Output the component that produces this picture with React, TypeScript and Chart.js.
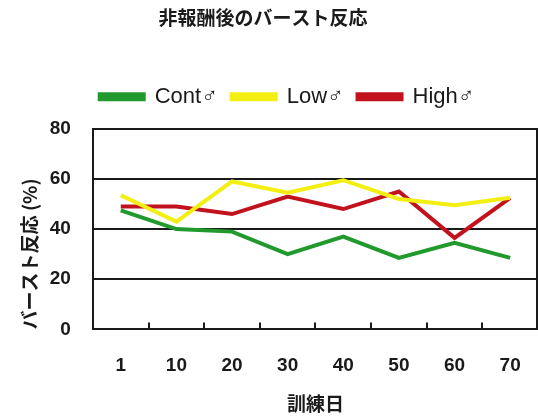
import React, { useEffect, useRef } from "react";
import { Chart, registerables } from "chart.js";

Chart.register(...registerables);

const titleText = "非報酬後のバースト反応";
const xTitle = "訓練日";
const yTitle = "バースト反応 (%)";
const days = ["1", "10", "20", "30", "40", "50", "60", "70"];
const contValues = [47.5, 40, 39, 30, 37, 28.5, 34.5, 28.5];
const lowValues = [53.5, 43, 59, 54.5, 59.5, 52, 49.5, 52.5];
const highValues = [49, 49, 46, 53, 48, 55, 36.5, 52.5];
const seriesNames = ["Cont♂", "Low♂", "High♂"];
const yTicks = [0, 20, 40, 60, 80];

const GREEN = "#22992c";
const YELLOW = "#f4ef12";
const RED = "#c2121d";

const legendGap = {
  id: "legendGap",
  beforeInit(chart: any) {
    const legend = chart.legend;
    if (!legend) return;
    const origFit = legend.fit;
    legend.fit = function () {
      origFit.call(this);
      this.height += 11;
    };
  },
  afterLayout(chart: any) {
    if (chart.legend) {
      chart.legend.left += 12;
      chart.legend.right += 12;
    }
    if (chart.titleBlock) {
      chart.titleBlock.left -= 12;
      chart.titleBlock.right -= 12;
    }
  },
};

const frameAndTicks = {
  id: "frameAndTicks",
  afterDatasetsDraw(chart: any) {
    const { ctx, chartArea } = chart;
    const xs = chart.scales.x;
    ctx.save();
    ctx.strokeStyle = "#1a1a1a";
    ctx.lineWidth = 2;
    ctx.beginPath();
    for (let i = 0; i < xs.ticks.length - 1; i++) {
      const x = Math.round((xs.getPixelForTick(i) + xs.getPixelForTick(i + 1)) / 2);
      ctx.moveTo(x, chartArea.bottom);
      ctx.lineTo(x, chartArea.bottom - 7);
    }
    ctx.moveTo(chartArea.right - 1, chartArea.top);
    ctx.lineTo(chartArea.right - 1, chartArea.bottom);
    ctx.stroke();
    ctx.restore();
  },
};

const noAutoPad = (scale: any) => {
  scale.paddingLeft = 0;
  scale.paddingRight = 0;
  scale.paddingTop = 0;
  scale.paddingBottom = 0;
};

export default function App() {
  const ref = useRef<HTMLCanvasElement | null>(null);
  useEffect(() => {
    if (!ref.current) return;
    const mk = (label: string, data: number[], color: string) => ({
      label,
      data,
      borderColor: color,
      backgroundColor: color,
      borderWidth: 4,
      pointRadius: 0,
      tension: 0,
    });
    const chart = new Chart(ref.current, {
      type: "line",
      data: {
        labels: days,
        datasets: [
          mk(seriesNames[0], contValues, GREEN),
          mk(seriesNames[1], lowValues, YELLOW),
          mk(seriesNames[2], highValues, RED),
        ],
      },
      options: {
        animation: false,
        responsive: false,
        maintainAspectRatio: false,
        layout: { autoPadding: false, padding: { left: 12, right: 0, top: 0, bottom: 2 } },
        plugins: {
          title: {
            display: true,
            text: titleText,
            color: "#1a1a1a",
            font: { family: "'Noto Sans CJK JP'", size: 19, weight: "bold" },
            padding: { top: 6, bottom: 43 },
          },
          legend: {
            display: true,
            labels: {
              color: "#1a1a1a",
              boxWidth: 44,
              boxHeight: 5,
              padding: 14,
              font: { family: "'Liberation Sans', 'DejaVu Sans'", size: 22 },
            },
          },
          tooltip: { enabled: false },
        },
        scales: {
          x: {
            type: "category",
            offset: true,
            afterFit: noAutoPad,
            grid: { display: false, drawTicks: false, offset: true },
            border: { display: true, color: "#1a1a1a", width: 2 },
            ticks: {
              color: "#1a1a1a",
              padding: 25,
              font: { family: "'Liberation Sans'", size: 19, weight: "bold" },
            },
            title: {
              display: true,
              text: xTitle,
              color: "#1a1a1a",
              font: { family: "'Noto Sans CJK JP'", size: 19, weight: "bold" },
              padding: { top: -10, bottom: 1 },
            },
          },
          y: {
            min: 0,
            max: 80,
            afterFit: noAutoPad,
            afterBuildTicks: (axis: any) => {
              axis.ticks = yTicks.map((v) => ({ value: v }));
            },
            grid: { color: "#1a1a1a", lineWidth: 2, drawTicks: false },
            border: { display: true, color: "#1a1a1a", width: 2 },
            ticks: {
              color: "#1a1a1a",
              padding: 22,
              font: { family: "'Liberation Sans'", size: 19, weight: "bold" },
            },
            title: {
              display: true,
              text: yTitle,
              align: "start",
              color: "#1a1a1a",
              font: { family: "'Noto Sans CJK JP'", size: 19, weight: "bold" },
              padding: { top: 6, bottom: -13 },
            },
          },
        },
      },
      plugins: [legendGap, frameAndTicks],
    });
    return () => chart.destroy();
  }, []);
  return (
    <div style={{ position: "fixed", left: 0, top: 0, width: 538, height: 418, background: "#fff" }}>
      <canvas ref={ref} width={538} height={418} style={{ width: 538, height: 418 }} />
    </div>
  );
}
